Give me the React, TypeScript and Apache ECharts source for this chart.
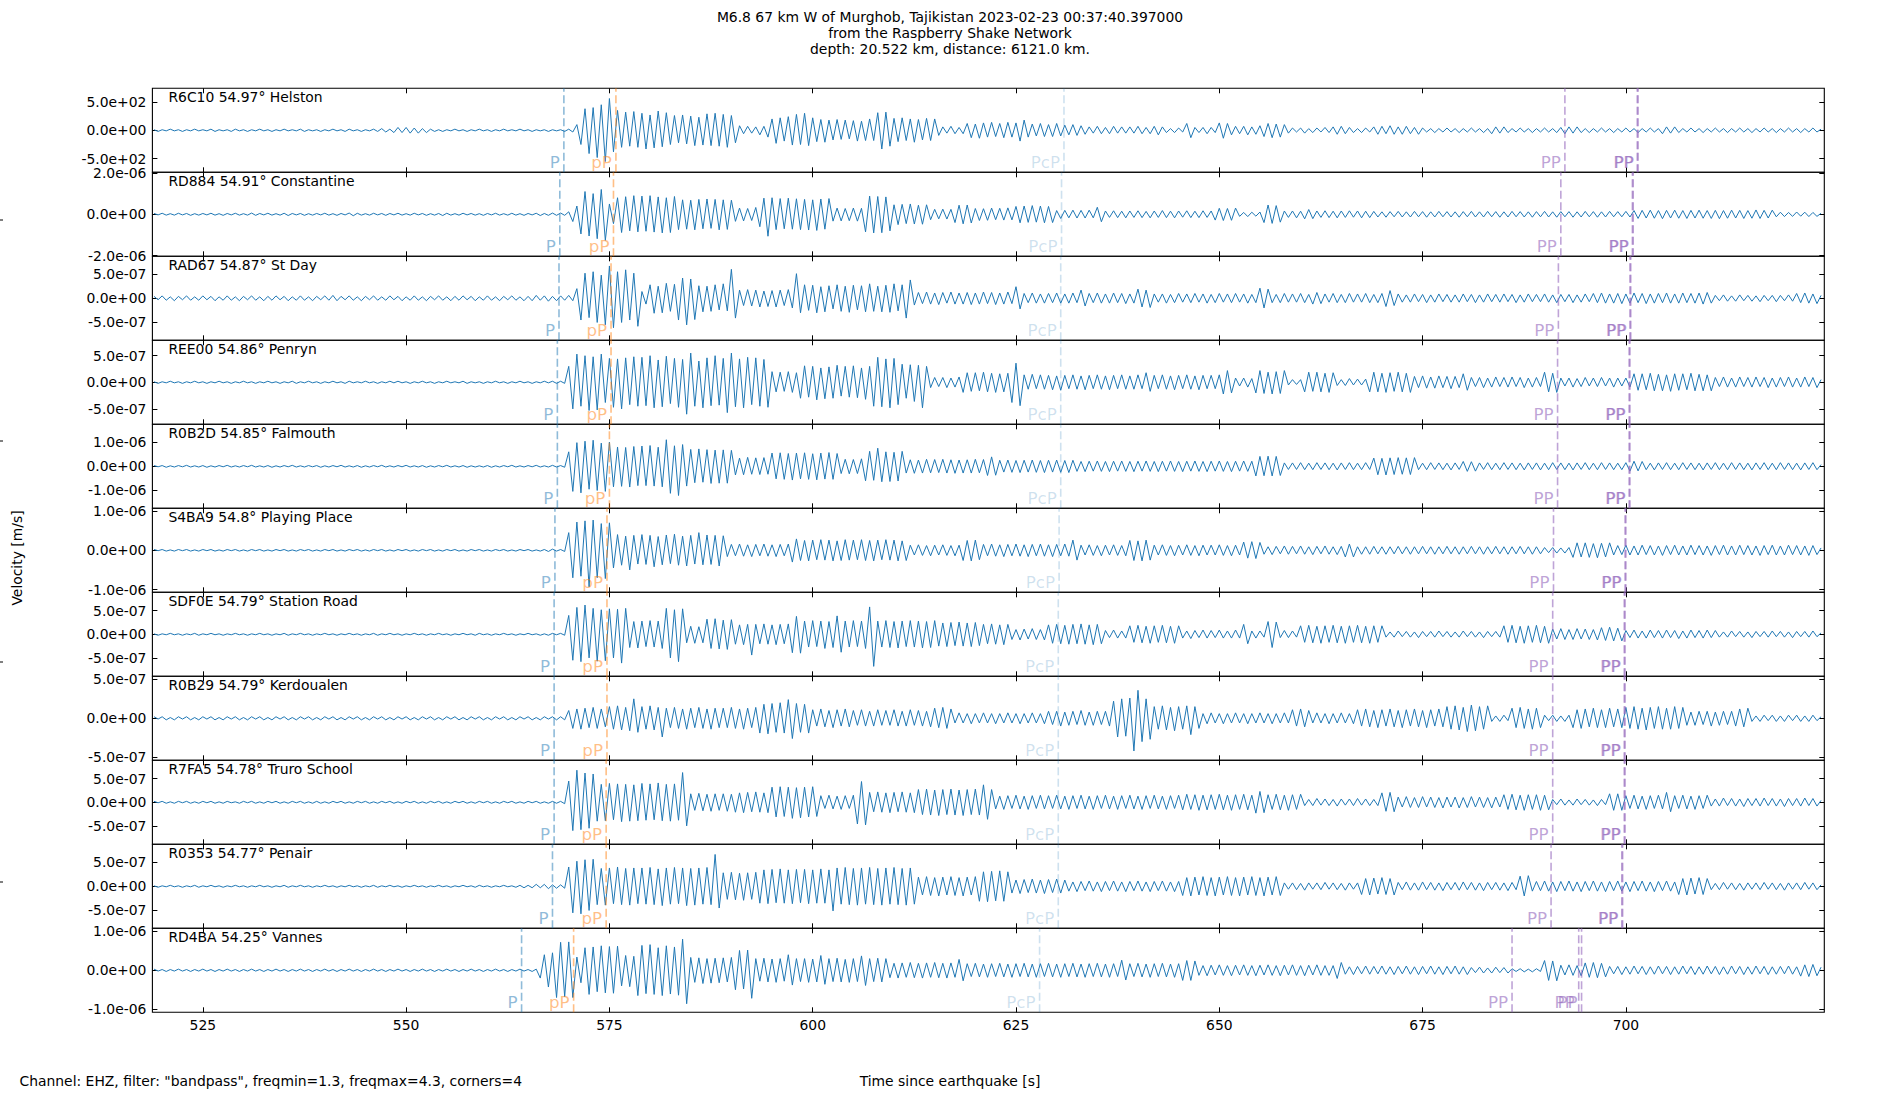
import React, { useEffect, useRef } from "react";
import * as echarts from "echarts";

// ---------- axes / layout constants ----------
const T0 = 519.0; // time of first sample [s]
const DT = 0.5;
const X_MIN = 518.8;
const X_MAX = 724.4;
const X_TICKS = [525, 550, 575, 600, 625, 650, 675, 700];

const STATIONS = ["R6C10", "RD884", "RAD67", "REE00", "R0B2D", "S4BA9", "SDF0E", "R0B29", "R7FA5", "R0353", "RD4BA"];
const DISTANCES = [54.97, 54.91, 54.87, 54.86, 54.85, 54.8, 54.79, 54.79, 54.78, 54.77, 54.25];
const PLACES = ["Helston", "Constantine", "St Day", "Penryn", "Falmouth", "Playing Place", "Station Road", "Kerdoualen", "Truro School", "Penair", "Vannes"];

// value units of each trace array (first station is in counts x10, others in 1e-8 m/s)
const UNITS = [10, 1e-8, 1e-8, 1e-8, 1e-8, 1e-8, 1e-8, 1e-8, 1e-8, 1e-8, 1e-8];
const Y_HALF = [74, 203, 87, 79, 174, 107, 89, 54, 89, 87, 108];
const Y_TICK = [50, 200, 50, 50, 100, 100, 50, 50, 50, 50, 100];

// ---------- phase arrival times [s] ----------
const P_TIMES = [569.4, 568.9, 568.8, 568.6, 568.6, 568.3, 568.2, 568.2, 568.2, 568.0, 564.2];
const PP_DEPTH_TIMES = [575.8, 575.5, 575.2, 575.2, 575.0, 574.7, 574.7, 574.7, 574.6, 574.6, 570.6];
const PCP_TIMES = [630.9, 630.6, 630.5, 630.5, 630.5, 630.3, 630.2, 630.2, 630.2, 630.2, 627.9];
const PP1_TIMES = [692.5, 692.0, 691.7, 691.6, 691.6, 691.1, 691.0, 691.0, 691.0, 690.8, 686.0];
const PP2_TIMES = [701.4, 700.8, 700.5, 700.4, 700.4, 699.9, 699.8, 699.8, 699.8, 699.5, 694.2];
const PP3_TIMES = [701.5, 700.9, 700.6, 700.5, 700.5, 700.0, 699.9, 699.9, 699.9, 699.6, 694.55];

const TRACE_R6C10 = [
  1,-2,1,-1,2,-1,1,-2,1,-1,2,-1,1,-1,2,-2,1,-1,1,-2,
  2,-1,1,-2,1,-1,2,-1,1,-2,1,-1,2,-1,1,-1,2,-2,1,-1,
  1,-2,1,-1,2,-1,1,-2,2,-1,1,-2,1,-1,2,-2,3,-3,2,-4,
  5,-4,5,-5,4,-5,3,-4,2,-2,1,-2,1,-1,2,-1,1,-2,1,-1,
  2,-1,1,-2,1,-1,2,-1,1,-1,2,-1,1,-2,1,-1,1,-2,1,-1,
  1,-2,2,-3,10,-25,38,-41,40,-48,45,-55,56,-38,35,-30,32,-28,33,-30,
  30,-33,27,-31,34,-29,31,-25,26,-22,27,-24,25,-27,23,-26,29,-27,30,-28,
  28,-30,26,-22,8,-6,7,-5,6,-8,7,-12,20,-23,22,-19,24,-26,28,-25,
  30,-27,22,-20,19,-21,18,-17,19,-16,18,-15,17,-19,16,-18,20,-18,31,-33,
  32,-28,21,-20,22,-18,20,-21,19,-17,21,-18,20,-9,6,-5,7,-6,5,-6,
  12,-13,11,-14,13,-12,14,-11,12,-13,14,-12,13,-19,18,-12,11,-10,12,-11,
  10,-11,12,-10,9,-8,10,-9,8,-7,6,-5,7,-6,5,-6,7,-5,6,-5,
  6,-5,7,-6,5,-6,7,-8,6,-4,3,-4,4,-3,12,-13,5,-4,5,-6,
  5,-4,13,-14,12,-8,7,-6,7,-8,6,-7,8,-11,12,-13,11,-12,10,-5,
  4,-3,4,-5,3,-4,4,-3,5,-4,6,-7,7,-6,5,-4,3,-4,4,-3,
  6,-7,7,-6,8,-7,6,-7,7,-6,5,-7,4,-3,3,-4,3,-3,4,-3,
  3,-4,3,-3,4,-3,3,-4,3,-6,6,-5,6,-4,3,-3,4,-3,3,-4,
  3,-3,4,-3,3,-4,5,-6,6,-5,6,-4,3,-4,3,-3,4,-3,3,-4,
  3,-3,4,-3,3,-4,3,-3,4,-3,3,-6,6,-5,6,-4,3,-3,4,-3,
  3,-4,3,-3,4,-3,3,-4,3,-3,4,-3,3,-4,3,-3,4,-3,3,-4,
  3,-3,4,-3,3,-4,3,-3,4,-3,2,
];
const TRACE_RD884 = [
  4,-3,5,-4,3,-4,5,-3,4,-5,3,-4,4,-3,5,-4,3,-5,4,-3,
  5,-4,3,-4,6,-5,4,-3,5,-4,3,-4,5,-6,4,-3,4,-5,3,-4,
  4,-3,5,-4,3,-5,4,-3,6,-7,5,-4,3,-4,5,-3,4,-5,4,-3,
  5,-4,3,-4,5,-3,4,-5,3,-4,4,-6,5,-4,3,-4,5,-3,4,-4,
  3,-5,4,-3,5,-4,3,-4,5,-4,3,-5,4,-3,5,-6,4,-5,6,-5,
  6,-5,12,-35,40,-95,110,-105,100,-118,120,-126,50,-45,80,-88,85,-80,90,-85,
  88,-82,90,-86,84,-90,80,-88,86,-74,70,-72,68,-75,72,-70,74,-68,72,-75,
  70,-73,68,-34,30,-32,28,-30,33,-60,78,-106,80,-74,76,-70,78,-72,75,-74,
  72,-76,70,-78,74,-72,76,-33,30,-32,28,-31,30,-33,29,-85,88,-90,86,-89,
  84,-80,46,-50,48,-45,50,-47,44,-48,46,-26,24,-22,25,-23,24,-40,44,-46,
  45,-42,28,-30,27,-29,30,-26,29,-28,31,-27,38,-41,40,-39,42,-38,40,-41,
  38,-40,18,-20,19,-17,20,-18,19,-18,20,-17,34,-36,16,-15,17,-16,15,-17,
  16,-15,17,-16,14,-17,16,-15,18,-16,15,-17,16,-14,17,-16,15,-16,17,-15,
  16,-28,29,-30,28,-29,30,-10,9,-11,10,-9,11,-40,45,-44,42,-38,16,-15,
  16,-17,15,-22,23,-21,16,-15,17,-16,15,-17,16,-15,17,-14,16,-17,15,-16,
  14,-13,12,-14,13,-12,14,-13,12,-13,14,-12,13,-14,12,-13,14,-12,13,-13,
  12,-14,13,-12,14,-13,12,-13,14,-12,13,-14,12,-13,14,-12,13,-13,12,-14,
  13,-12,14,-13,12,-14,13,-12,13,-14,12,-13,14,-12,13,-14,12,-13,14,-12,
  13,-12,14,-13,18,-20,19,-18,20,-19,18,-21,19,-18,20,-19,18,-20,19,-18,
  20,-19,18,-20,19,-21,18,-19,20,-18,19,-20,18,-19,21,-20,19,-18,20,-12,
  10,-11,9,-10,11,-9,10,-11,9,-10,5,
];
const TRACE_RAD67 = [
  4,-3,5,-4,3,-5,4,-3,5,-4,3,-4,5,-3,4,-5,3,-4,5,-4,
  3,-5,4,-3,5,-4,3,-5,4,-4,5,-3,4,-5,3,-4,5,-4,3,-5,
  4,-3,5,-4,6,-5,4,-3,5,-4,3,-5,4,-3,5,-4,3,-4,5,-3,
  4,-5,3,-4,5,-4,3,-5,4,-3,5,-4,3,-5,4,-4,5,-3,4,-5,
  3,-4,5,-4,3,-5,4,-3,5,-4,3,-5,4,-5,6,-4,5,-6,4,-5,
  5,-4,6,-5,20,-45,52,-40,55,-50,48,-55,67,-61,55,-50,59,-45,52,-58,
  14,-12,28,-31,25,-30,31,-27,29,-45,42,-55,40,-44,26,-28,25,-27,28,-24,
  30,-26,60,-41,17,-15,18,-16,17,-18,15,-17,16,-18,17,-15,18,-20,51,-30,
  28,-25,27,-30,24,-28,26,-22,28,-27,25,-29,27,-24,26,-28,30,-27,25,-28,
  27,-29,30,-26,28,-41,38,-14,12,-11,13,-12,11,-13,12,-10,13,-12,11,-12,
  12,-13,11,-12,13,-11,12,-13,11,-12,13,-11,24,-22,10,-9,11,-10,9,-10,
  10,-9,11,-10,9,-10,11,-9,17,-16,10,-9,11,-10,9,-10,11,-9,10,-11,
  9,-10,19,-18,17,-19,9,-8,9,-10,8,-9,10,-8,9,-9,10,-8,9,-10,
  8,-9,10,-8,9,-9,10,-8,9,-10,8,-9,21,-20,19,-9,8,-9,10,-8,
  9,-8,10,-9,8,-12,12,-11,9,-8,10,-9,8,-9,10,-8,9,-8,10,-9,
  8,-9,10,-17,16,-15,9,-8,7,-8,9,-7,8,-9,7,-8,9,-7,8,-8,
  7,-8,9,-7,8,-9,7,-8,9,-7,8,-8,9,-7,8,-9,7,-8,9,-7,
  8,-7,9,-8,7,-9,8,-7,8,-9,7,-8,9,-7,10,-9,11,-10,9,-10,
  10,-11,9,-10,11,-9,10,-11,9,-10,10,-9,11,-10,9,-10,11,-9,10,-10,
  11,-12,12,-10,6,-5,7,-6,5,-6,7,-5,6,-6,5,-7,6,-5,6,-7,
  6,-5,7,-6,10,-9,11,-10,9,-11,6,
];
const TRACE_REE00 = [
  1,-2,1,-1,2,-1,1,-2,1,-1,2,-1,1,-2,1,-1,2,-1,1,-2,
  1,-1,2,-1,1,-2,1,-1,2,-1,1,-2,1,-1,2,-2,1,-1,2,-1,
  1,-2,1,-1,2,-1,1,-2,2,-1,1,-1,2,-1,1,-2,1,-1,2,-1,
  2,-1,1,-2,1,-1,2,-1,1,-2,1,-1,2,-1,1,-1,2,-2,1,-1,
  1,-2,1,-1,2,-1,1,-2,1,-1,2,-1,1,-2,1,-1,2,-1,2,-2,
  2,-2,30,-50,53,-45,50,-53,48,-52,53,-38,45,-47,44,-50,46,-42,48,-45,
  47,-44,50,-48,42,-46,49,-40,45,-47,43,-60,55,-45,40,-48,46,-44,50,-43,
  45,-57,55,-46,44,-48,47,-42,46,-45,43,-47,20,-18,19,-17,20,-19,18,-30,
  31,-28,30,-33,27,-31,29,-30,32,-26,30,-28,31,-29,27,-32,30,-45,47,-46,
  44,-48,45,-42,34,-30,33,-36,32,-48,30,-10,9,-8,9,-10,8,-9,10,-19,
  18,-17,18,-16,19,-18,17,-19,16,-18,17,-38,36,-44,14,-13,15,-12,14,-13,
  13,-14,12,-15,13,-12,14,-13,12,-14,13,-12,14,-13,12,-14,13,-12,14,-13,
  12,-13,14,-12,18,-17,13,-12,14,-13,12,-14,13,-12,14,-13,12,-14,13,-12,
  13,-12,14,-22,22,-20,8,-7,8,-9,7,-20,22,-21,19,-22,20,-21,22,-5,
  5,-4,5,-18,19,-17,19,-18,17,-19,18,-6,5,-6,7,-5,6,-5,6,-18,
  19,-18,17,-19,18,-17,19,-18,17,-19,11,-10,12,-11,10,-11,12,-10,11,-12,
  11,-10,16,-15,9,-8,9,-10,8,-9,10,-8,9,-9,10,-8,9,-10,8,-9,
  9,-8,19,-18,17,-19,8,-7,8,-9,7,-8,9,-7,8,-8,9,-7,8,-9,
  8,-7,8,-9,16,-15,16,-14,17,-16,15,-16,14,-17,16,-15,16,-14,17,-16,
  15,-16,14,-16,9,-8,10,-9,8,-9,10,-8,9,-9,10,-8,9,-10,8,-9,
  9,-8,10,-9,8,-9,10,-8,9,-10,5,
];
const TRACE_R0B2D = [
  3,-2,3,-4,2,-3,3,-2,4,-3,2,-3,3,-4,2,-3,3,-2,4,-3,
  2,-3,3,-2,4,-3,2,-3,3,-4,2,-3,3,-2,4,-3,2,-3,3,-2,
  3,-4,2,-3,3,-2,4,-3,2,-3,3,-4,2,-3,3,-2,4,-3,2,-3,
  3,-2,4,-3,2,-3,3,-4,2,-3,3,-2,4,-3,2,-3,3,-4,2,-3,
  2,-3,3,-4,2,-3,3,-2,4,-3,2,-3,3,-2,4,-3,2,-3,4,-3,
  3,-4,60,-104,98,-110,104,-95,108,-100,96,-104,100,-85,80,-83,78,-86,82,-80,
  84,-80,86,-82,79,-85,110,-112,85,-121,90,-82,70,-68,72,-66,69,-71,67,-70,
  68,-70,66,-36,34,-35,37,-33,35,-34,36,-33,55,-52,56,-54,53,-57,55,-52,
  56,-54,52,-56,55,-53,57,-54,53,-30,29,-31,28,-30,31,-60,62,-58,75,-64,
  60,-63,58,-61,62,-28,27,-29,26,-28,29,-27,28,-26,29,-28,27,-29,26,-28,
  27,-28,29,-27,28,-38,39,-37,25,-24,26,-25,24,-26,25,-24,26,-25,24,-26,
  25,-24,26,-25,24,-26,25,-21,20,-22,21,-20,22,-21,20,-22,21,-20,22,-21,
  20,-22,21,-20,22,-21,20,-22,21,-20,22,-21,20,-22,21,-20,22,-21,20,-22,
  21,-20,22,-21,20,-22,21,-20,22,-21,21,-40,41,-39,42,-40,41,-38,14,-13,
  14,-13,15,-14,13,-14,15,-13,14,-14,13,-15,14,-13,15,-14,13,-14,15,-13,
  34,-35,33,-36,35,-34,36,-33,35,-34,36,-14,13,-14,15,-13,14,-14,13,-15,
  14,-13,20,-21,19,-20,14,-13,15,-14,13,-14,15,-13,14,-14,13,-15,14,-13,
  14,-15,13,-14,15,-13,14,-14,13,-15,14,-13,15,-14,13,-14,15,-13,14,-14,
  13,-14,15,-20,21,-19,20,-14,13,-15,14,-13,15,-14,13,-14,15,-13,14,-14,
  13,-15,14,-13,15,-14,13,-14,15,-13,14,-14,13,-15,14,-13,15,-14,13,-14,
  15,-13,14,-14,13,-15,14,-13,15,-14,7,
];
const TRACE_S4BA9 = [
  2,-1,2,-2,1,-2,2,-1,2,-2,1,-2,2,-1,2,-2,1,-2,2,-1,
  2,-2,1,-2,2,-1,2,-2,1,-2,2,-1,2,-2,1,-2,2,-1,2,-2,
  1,-2,2,-1,2,-2,1,-2,2,-1,2,-2,1,-2,2,-1,2,-2,1,-2,
  2,-1,2,-2,1,-2,2,-1,2,-2,1,-2,2,-1,2,-2,1,-2,2,-1,
  2,-2,1,-2,2,-1,2,-2,1,-2,2,-1,2,-2,1,-2,2,-3,3,-2,
  2,-3,45,-70,72,-66,75,-93,77,-70,68,-72,70,-45,40,-38,36,-50,38,-35,
  40,-36,38,-42,35,-37,39,-34,41,-38,36,-40,38,-35,45,-37,39,-36,38,-40,
  37,-16,15,-14,16,-15,14,-16,15,-14,16,-15,14,-16,15,-14,16,-30,29,-26,
  25,-27,26,-24,27,-25,26,-27,24,-26,27,-25,26,-24,27,-26,25,-27,26,-24,
  27,-25,26,-27,24,-26,13,-12,14,-13,12,-14,13,-12,14,-13,12,-14,13,-26,
  25,-27,26,-24,15,-14,16,-15,14,-16,15,-14,16,-15,14,-16,15,-14,16,-15,
  14,-16,15,-14,16,-15,26,-25,13,-12,14,-13,12,-14,13,-12,14,-13,12,-14,
  25,-26,24,-27,26,-25,13,-12,14,-13,12,-14,13,-12,14,-13,12,-14,13,-12,
  13,-12,14,-13,12,-14,13,-12,21,-20,22,-21,20,-10,9,-11,10,-9,11,-10,
  10,-9,11,-10,9,-11,10,-9,11,-10,9,-11,10,-17,16,-17,9,-10,9,-10,
  10,-9,9,-10,9,-9,10,-9,9,-10,9,-9,10,-9,9,-10,9,-9,10,-9,
  9,-10,9,-9,10,-9,9,-10,9,-9,10,-9,9,-10,9,-9,10,-9,9,-10,
  9,-9,7,-6,7,-7,6,-7,7,-18,19,-17,19,-18,17,-19,18,-17,19,-12,
  12,-11,13,-12,11,-12,13,-11,12,-12,11,-13,12,-11,13,-12,11,-12,13,-11,
  12,-12,11,-13,12,-11,13,-12,11,-12,13,-11,12,-12,11,-13,12,-11,13,-12,
  11,-12,13,-11,12,-12,11,-13,12,-11,6,
];
const TRACE_SDF0E = [
  1,-2,1,-1,2,-1,1,-2,1,-1,2,-2,1,-1,2,-1,1,-2,1,-1,
  2,-1,1,-2,1,-1,2,-1,1,-2,1,-1,2,-2,1,-1,2,-1,1,-2,
  1,-1,2,-1,1,-2,1,-1,2,-1,1,-2,1,-1,2,-2,1,-1,2,-1,
  1,-2,1,-1,2,-1,1,-2,1,-1,2,-1,1,-2,1,-1,2,-1,1,-2,
  2,-1,1,-2,1,-1,2,-1,1,-2,1,-1,2,-1,1,-2,1,-2,2,-1,
  2,-2,40,-55,57,-58,62,-50,55,-57,52,-56,54,-50,53,-61,55,-28,27,-29,
  28,-26,29,-27,28,-30,55,-50,52,-58,54,-18,17,-19,16,-18,32,-30,33,-31,
  30,-32,31,-21,20,-22,21,-44,21,-20,22,-21,20,-22,21,-20,22,-39,38,-40,
  28,-27,29,-26,28,-30,27,-28,39,-38,28,-27,29,-26,28,-30,58,-68,28,-27,
  29,-28,27,-29,28,-26,29,-27,28,-29,27,-28,29,-25,24,-26,25,-24,26,-25,
  24,-26,25,-24,21,-20,22,-21,20,-22,21,-11,10,-12,11,-10,12,-11,10,-12,
  20,-19,21,-20,19,-21,21,-20,22,-21,20,-22,21,-20,8,-7,9,-8,7,-8,
  18,-17,19,-18,17,-19,18,-17,19,-18,17,-19,18,-8,7,-9,8,-7,9,-8,
  8,-7,9,-8,7,-8,9,-8,21,-20,7,-8,7,-6,27,-28,26,-7,8,-7,
  7,-6,18,-17,19,-18,17,-19,18,-17,19,-18,17,-19,18,-17,19,-18,17,-19,
  18,-17,18,-6,5,-6,7,-5,6,-6,5,-7,6,-5,6,-6,7,-5,6,-6,
  5,-6,7,-5,6,-6,5,-7,6,-5,6,-6,18,-17,19,-18,17,-19,18,-17,
  19,-18,17,-19,11,-10,12,-11,10,-11,12,-10,11,-11,10,-12,14,-13,15,-14,
  13,-14,8,-7,9,-8,7,-8,9,-7,8,-8,9,-7,8,-9,7,-8,9,-7,
  8,-8,9,-7,8,-6,5,-6,7,-5,6,-6,5,-7,6,-5,6,-6,7,-5,
  6,-6,5,-7,6,-5,6,-6,7,-5,3,
];
const TRACE_R0B29 = [
  2,-1,2,-2,1,-2,2,-1,2,-2,1,-2,2,-1,2,-2,1,-2,2,-1,
  2,-2,1,-2,2,-1,2,-2,1,-2,2,-1,2,-2,1,-2,2,-1,2,-2,
  1,-2,2,-1,2,-2,1,-2,2,-1,2,-2,1,-2,2,-1,2,-2,1,-2,
  2,-1,2,-2,1,-2,2,-1,2,-2,1,-2,2,-1,2,-2,1,-2,2,-1,
  2,-2,1,-2,2,-1,2,-2,1,-2,2,-1,2,-2,1,-2,2,-1,2,-2,
  2,-2,10,-13,12,-14,13,-12,14,-13,12,-11,15,-14,16,-15,14,-16,25,-18,
  15,-14,16,-15,14,-24,13,-12,14,-13,12,-14,13,-12,14,-13,12,-14,13,-12,
  13,-12,14,-13,12,-14,13,-12,14,-19,18,-20,19,-18,20,-19,24,-26,19,-18,
  18,-19,11,-10,12,-11,10,-12,11,-10,12,-11,10,-9,11,-10,9,-10,11,-9,
  10,-9,11,-10,9,-10,11,-9,10,-10,9,-11,13,-12,14,-13,12,-6,7,-6,
  6,-7,6,-6,7,-6,6,-7,6,-6,7,-6,6,-7,6,-6,7,-6,6,-7,
  9,-8,9,-10,8,-9,9,-8,10,-9,8,-9,9,-8,9,-10,22,-24,25,-23,
  26,-42,36,-30,25,-27,15,-14,16,-15,14,-16,15,-14,16,-21,15,-13,6,-7,
  7,-6,6,-7,6,-6,7,-6,6,-7,6,-6,7,-6,6,-7,6,-6,7,-6,
  11,-10,12,-11,10,-6,7,-6,6,-7,6,-6,7,-6,6,-7,11,-10,12,-11,
  10,-12,11,-10,12,-11,10,-12,11,-10,12,-11,10,-12,11,-10,12,-11,15,-14,
  16,-15,14,-17,17,-16,15,-14,16,-4,3,-4,4,-3,13,-12,14,-13,12,-14,
  13,-12,4,-3,4,-4,3,-4,4,-12,11,-13,12,-11,13,-12,11,-12,13,-11,
  12,-12,14,-13,15,-14,13,-15,14,-13,15,-14,13,-14,15,-13,14,-9,8,-9,
  9,-8,9,-10,8,-9,9,-8,9,-10,12,-11,13,-4,3,-4,4,-3,4,-4,
  3,-4,4,-3,4,-4,3,-4,4,-3,2,
];
const TRACE_R7FA5 = [
  2,-1,2,-2,1,-2,2,-1,2,-2,1,-2,2,-1,2,-2,1,-2,2,-1,
  1,-2,2,-1,2,-2,1,-2,2,-1,2,-2,1,-2,2,-1,2,-2,1,-2,
  2,-2,1,-2,2,-1,2,-2,1,-2,2,-1,2,-2,1,-2,2,-1,2,-2,
  1,-2,2,-1,2,-2,1,-2,2,-1,2,-2,1,-2,2,-1,2,-2,1,-2,
  2,-1,2,-2,1,-2,2,-1,2,-2,1,-2,2,-1,2,-2,1,-2,2,-2,
  2,-3,45,-60,68,-58,62,-55,60,-40,38,-39,40,-37,39,-41,38,-40,37,-39,
  40,-38,39,-37,41,-39,38,-40,39,-38,63,-50,18,-17,19,-18,17,-19,18,-17,
  18,-19,17,-21,20,-22,21,-20,22,-21,20,-22,32,-31,33,-30,32,-34,31,-33,
  32,-31,33,-30,14,-13,15,-14,13,-15,14,-13,15,-46,44,-48,21,-20,22,-21,
  20,-22,21,-20,22,-21,20,-22,27,-26,28,-27,26,-28,27,-26,28,-27,26,-28,
  27,-26,28,-27,37,-36,27,-14,13,-15,14,-13,15,-14,13,-15,14,-13,15,-14,
  14,-13,15,-14,13,-15,14,-13,15,-14,13,-15,14,-13,15,-14,13,-15,14,-13,
  15,-14,13,-15,14,-13,15,-14,13,-15,14,-13,15,-16,17,-15,16,-17,15,-16,
  16,-15,17,-16,15,-17,16,-15,17,-16,15,-23,23,-22,16,-15,17,-16,15,-17,
  16,-15,17,-7,6,-7,8,-6,7,-7,6,-8,7,-6,7,-7,8,-6,7,-7,
  6,-7,20,-19,21,-20,11,-10,12,-11,10,-11,12,-10,11,-11,10,-12,11,-10,
  11,-12,10,-11,12,-10,11,-11,10,-12,11,-10,16,-15,17,-16,15,-17,16,-15,
  16,-17,15,-16,6,-5,7,-6,5,-6,7,-5,6,-6,5,-7,6,-5,18,-17,
  18,-17,14,-13,15,-14,13,-15,14,-13,15,-14,21,-20,14,-13,15,-14,13,-15,
  14,-13,15,-8,7,-8,9,-7,8,-8,7,-9,8,-7,8,-8,9,-7,8,-8,
  7,-9,8,-7,8,-8,9,-7,8,-8,4,
];
const TRACE_R0353 = [
  1,-2,1,-1,2,-1,1,-2,1,-1,2,-2,1,-1,2,-1,1,-2,1,-1,
  2,-1,1,-2,1,-1,2,-1,1,-2,1,-1,2,-2,1,-1,2,-1,1,-2,
  1,-1,2,-1,1,-2,1,-1,2,-1,1,-2,1,-1,2,-2,1,-1,2,-1,
  1,-2,1,-1,2,-1,1,-2,1,-1,2,-1,1,-2,1,-1,2,-1,1,-2,
  2,-1,1,-2,1,-1,2,-1,1,-2,2,-3,2,-3,4,-3,4,-5,3,-4,
  3,-4,40,-55,52,-57,55,-50,56,-38,37,-39,38,-36,40,-38,37,-39,38,-36,
  38,-37,39,-38,36,-40,38,-37,39,-36,38,-40,37,-39,38,-37,39,-38,66,-45,
  28,-27,29,-28,27,-29,28,-27,29,-35,34,-36,35,-34,36,-35,34,-36,35,-34,
  35,-36,34,-35,36,-35,34,-51,38,-37,39,-38,37,-39,38,-37,39,-38,37,-39,
  38,-37,39,-38,37,-39,38,-37,19,-18,20,-19,18,-20,19,-18,20,-19,18,-20,
  19,-18,20,-31,30,-32,31,-30,32,-31,30,-14,13,-15,14,-13,15,-14,13,-15,
  14,-13,15,-14,13,-10,9,-11,10,-9,11,-10,9,-11,10,-9,11,-10,9,-11,
  10,-9,11,-10,9,-11,10,-9,11,-10,9,-11,10,-19,18,-20,19,-18,20,-19,
  18,-20,19,-18,20,-19,18,-20,19,-18,20,-19,18,-20,19,-18,20,-19,7,-6,
  7,-7,6,-8,7,-6,7,-7,8,-6,7,-7,6,-8,7,-6,7,-17,16,-18,
  17,-16,18,-17,16,-18,8,-7,9,-8,7,-8,9,-7,8,-8,7,-9,8,-7,
  8,-8,9,-7,8,-8,7,-9,8,-7,8,-8,7,-9,8,-7,21,-20,22,-10,
  10,-9,11,-10,9,-11,10,-9,11,-10,9,-11,10,-9,11,-10,9,-11,10,-9,
  11,-10,9,-11,10,-9,11,-10,9,-11,10,-9,11,-10,9,-17,16,-18,17,-16,
  18,-17,16,-7,6,-7,8,-6,7,-7,6,-8,7,-6,7,-7,8,-6,7,-7,
  6,-8,7,-6,7,-7,8,-6,7,-7,3,
];
const TRACE_RD4BA = [
  3,-2,2,-3,2,-2,3,-2,2,-3,2,-2,3,-2,2,-3,2,-2,3,-2,
  2,-3,2,-2,3,-2,2,-3,2,-2,3,-2,2,-3,2,-2,3,-2,2,-3,
  2,-2,3,-2,2,-3,2,-2,3,-2,2,-3,2,-2,3,-2,2,-3,2,-2,
  3,-2,2,-3,2,-2,3,-2,2,-3,2,-2,3,-2,2,-3,2,-2,3,-2,
  2,-3,2,-2,3,-2,2,-3,2,-2,3,-2,2,-3,3,-20,40,-43,45,-70,
  72,-68,73,-70,34,-32,58,-62,60,-55,63,-58,61,-59,62,-40,38,-42,36,-65,
  64,-60,66,-62,58,-65,63,-61,60,-64,80,-86,33,-31,32,-34,30,-33,31,-32,
  32,-30,33,-50,51,-48,52,-72,30,-28,31,-30,29,-31,30,-28,40,-38,30,-29,
  30,-31,29,-30,38,-36,30,-29,31,-30,28,-31,30,-29,37,-39,30,-29,31,-30,
  30,-19,18,-20,19,-18,20,-19,18,-20,19,-18,20,-19,18,-20,19,-18,28,-27,
  17,-16,18,-17,16,-18,17,-16,18,-17,16,-18,17,-16,18,-17,16,-18,17,-16,
  18,-17,16,-18,17,-16,18,-17,16,-18,17,-16,18,-17,16,-18,17,-16,26,-25,
  17,-16,18,-17,16,-18,17,-16,18,-17,16,-18,17,-26,25,-26,24,-13,12,-14,
  13,-12,14,-13,12,-14,13,-12,14,-13,12,-14,13,-12,14,-13,12,-14,13,-12,
  14,-13,12,-14,13,-12,14,-13,12,-13,12,-21,20,-10,9,-11,10,-9,11,-10,
  10,-9,11,-10,9,-11,10,-9,11,-10,9,-11,10,-9,11,-10,9,-11,10,-9,
  11,-10,9,-11,7,-6,8,-7,6,-7,8,-6,7,-7,4,-3,4,-4,3,-4,
  4,-3,25,-26,24,-27,13,-12,14,-13,12,-14,19,-18,20,-19,18,-17,10,-9,
  10,-11,9,-10,11,-9,10,-11,9,-10,11,-9,10,-11,9,-10,11,-9,10,-11,
  9,-10,11,-9,10,-11,9,-10,11,-9,10,-11,9,-10,11,-9,10,-11,9,-10,
  10,-9,11,-10,9,-15,14,-16,15,-14,8,
];

const TRACES = [TRACE_R6C10, TRACE_RD884, TRACE_RAD67, TRACE_REE00, TRACE_R0B2D, TRACE_S4BA9, TRACE_SDF0E, TRACE_R0B29, TRACE_R7FA5, TRACE_R0353, TRACE_RD4BA];

// ---------- styling ----------
const FONT = '"DejaVu Sans", "Liberation Sans", sans-serif';
const GRID_LEFT = 152.4;
const GRID_W = 1671.9;
const GRID_TOP = 88.3;
const PANEL_H = 84;
const TRACE_COLOR = "#1f77b4";

const PHASES = [
  { name: "P", times: P_TIMES, color: "rgba(31,119,180,0.5)" },
  { name: "pP", times: PP_DEPTH_TIMES, color: "rgba(255,127,14,0.5)" },
  { name: "PcP", times: PCP_TIMES, color: "rgba(31,119,180,0.22)" },
  { name: "PP", times: PP1_TIMES, color: "rgba(148,103,189,0.6)" },
  { name: "PP", times: PP2_TIMES, color: "rgba(148,103,189,0.6)" },
  { name: "PP", times: PP3_TIMES, color: "rgba(148,103,189,0.6)" },
];

function fmtExp(x: number): string {
  const s = x.toExponential(1);
  return s.replace(/e([+-])(\d)$/, "e$10$2");
}

function buildOption() {
  const N = STATIONS.length;
  const grids: any[] = [];
  const xAxes: any[] = [];
  const yAxes: any[] = [];
  const series: any[] = [];
  const graphics: any[] = [];

  for (let k = 0; k < N; k++) {
    const top = GRID_TOP + k * PANEL_H;
    grids.push({
      left: GRID_LEFT,
      top,
      width: GRID_W,
      height: PANEL_H,
      show: true,
      borderColor: "#000",
      borderWidth: 1.1,
      backgroundColor: "transparent",
    });
  }
  const tickStyle = { color: "#000", width: 1 };
  for (let k = 0; k < N; k++) {
    xAxes.push({
      type: "value",
      gridIndex: k,
      min: X_MIN,
      max: X_MAX,
      position: "bottom",
      axisLine: { show: false, onZero: false },
      splitLine: { show: false },
      axisTick: { show: true, inside: true, length: 5, lineStyle: tickStyle, customValues: X_TICKS },
      axisLabel: {
        show: k === N - 1,
        customValues: X_TICKS,
        color: "#000",
        fontSize: 13.9,
        fontFamily: FONT,
        margin: 6,
        formatter: (v: number) => String(v),
      },
    });
  }
  for (let k = 0; k < N; k++) {
    xAxes.push({
      type: "value",
      gridIndex: k,
      min: X_MIN,
      max: X_MAX,
      position: "top",
      axisLine: { show: false, onZero: false },
      splitLine: { show: false },
      axisTick: { show: true, inside: true, length: 5, lineStyle: tickStyle, customValues: X_TICKS },
      axisLabel: { show: false },
    });
  }
  for (let k = 0; k < N; k++) {
    const h = Y_HALF[k];
    const tk = Y_TICK[k];
    const vals = [-tk, 0, tk];
    const unit = UNITS[k];
    yAxes.push({
      type: "value",
      gridIndex: k,
      min: -h,
      max: h,
      position: "left",
      axisLine: { show: false, onZero: false },
      splitLine: { show: false },
      axisTick: { show: true, inside: true, length: 5, lineStyle: tickStyle, customValues: vals },
      axisLabel: {
        show: true,
        customValues: vals,
        color: "#000",
        fontSize: 13.9,
        fontFamily: FONT,
        margin: 6,
        formatter: (v: number) => fmtExp(v * unit),
      },
    });
  }
  for (let k = 0; k < N; k++) {
    const h = Y_HALF[k];
    const tk = Y_TICK[k];
    const vals = [-tk, 0, tk];
    yAxes.push({
      type: "value",
      gridIndex: k,
      min: -h,
      max: h,
      position: "right",
      axisLine: { show: false, onZero: false },
      splitLine: { show: false },
      axisTick: { show: true, inside: true, length: 5, lineStyle: tickStyle, customValues: vals },
      axisLabel: { show: false },
    });
  }

  for (let k = 0; k < N; k++) {
    const tr = TRACES[k];
    series.push({
      type: "line",
      xAxisIndex: k,
      yAxisIndex: k,
      data: tr.map((v, i) => [T0 + i * DT, v]),
      showSymbol: false,
      symbol: "none",
      silent: true,
      clip: true,
      z: 2,
      lineStyle: { width: 1, color: TRACE_COLOR },
      itemStyle: { color: TRACE_COLOR },
    });

    const phaseData: any[] = [];
    PHASES.forEach((ph, pi) => {
      phaseData.push([ph.times[k], 0, pi]);
    });
    const h = Y_HALF[k];
    series.push({
      type: "custom",
      xAxisIndex: k,
      yAxisIndex: k,
      silent: true,
      clip: false,
      z: 4,
      encode: { x: 0, y: 1 },
      data: phaseData,
      renderItem: (params: any, api: any) => {
        const t = api.value(0);
        const pi = api.value(2);
        const ph = PHASES[pi];
        const pTop = api.coord([t, h]);
        const pBot = api.coord([t, -h]);
        return {
          type: "group",
          children: [
            {
              type: "line",
              shape: { x1: pTop[0], y1: pBot[1], x2: pTop[0], y2: pTop[1] },
              style: { stroke: ph.color, lineWidth: 1.6, lineDash: [8, 3.5] },
            },
            {
              type: "text",
              x: pTop[0] - 4,
              y: pBot[1] - 10,
              style: {
                text: ph.name,
                fill: ph.color,
                fontSize: 16.7,
                fontFamily: FONT,
                align: "right",
                verticalAlign: "middle",
                textAlign: "right",
                textVerticalAlign: "middle",
              },
            },
          ],
        };
      },
    });

    graphics.push({
      type: "text",
      x: GRID_LEFT + 16,
      y: GRID_TOP + k * PANEL_H + 9,
      silent: true,
      z: 10,
      style: {
        text: `${STATIONS[k]} ${DISTANCES[k]}° ${PLACES[k]}`,
        fill: "#000",
        font: `13.9px ${FONT}`,
        align: "left",
        verticalAlign: "middle",
        textAlign: "left",
        textVerticalAlign: "middle",
      },
    });
  }

  const TITLE_LINES = [
    "M6.8 67 km W of Murghob, Tajikistan 2023-02-23 00:37:40.397000",
    "from the Raspberry Shake Network",
    "depth: 20.522 km, distance: 6121.0 km.",
  ];
  const TITLE_Y = [17, 33, 49];
  TITLE_LINES.forEach((s, i) => {
    graphics.push({
      type: "text",
      x: 950,
      y: TITLE_Y[i],
      silent: true,
      style: { text: s, fill: "#000", font: `13.9px ${FONT}`, align: "center", verticalAlign: "middle", textAlign: "center", textVerticalAlign: "middle" },
    });
  });
  graphics.push({
    type: "text",
    x: 17,
    y: 558,
    rotation: Math.PI / 2,
    silent: true,
    style: { text: "Velocity [m/s]", fill: "#000", font: `13.9px ${FONT}`, align: "center", verticalAlign: "middle", textAlign: "center", textVerticalAlign: "middle" },
  });
  graphics.push({
    type: "text",
    x: 19.5,
    y: 1081,
    silent: true,
    style: { text: 'Channel: EHZ, filter: "bandpass", freqmin=1.3, freqmax=4.3, corners=4', fill: "#000", font: `13.9px ${FONT}`, align: "left", verticalAlign: "middle", textAlign: "left", textVerticalAlign: "middle" },
  });
  graphics.push({
    type: "text",
    x: 950,
    y: 1081,
    silent: true,
    style: { text: "Time since earthquake [s]", fill: "#000", font: `13.9px ${FONT}`, align: "center", verticalAlign: "middle", textAlign: "center", textVerticalAlign: "middle" },
  });
  [220, 441, 662, 882].forEach((yy) => {
    graphics.push({ type: "line", silent: true, shape: { x1: 0, y1: yy, x2: 3, y2: yy }, style: { stroke: "#000", lineWidth: 1 } });
  });

  return {
    animation: false,
    backgroundColor: "#fff",
    textStyle: { fontFamily: FONT },
    grid: grids,
    xAxis: xAxes,
    yAxis: yAxes,
    series,
    graphic: { elements: graphics },
  };
}

export default function App() {
  const ref = useRef<HTMLDivElement>(null);
  useEffect(() => {
    if (!ref.current) return;
    const chart = echarts.init(ref.current, undefined, { renderer: "svg", width: 1900, height: 1100 });
    chart.setOption(buildOption() as any);
    return () => {
      chart.dispose();
    };
  }, []);
  return (
    <div
      ref={ref}
      style={{ position: "fixed", left: 0, top: 0, width: 1900, height: 1100, background: "#fff" }}
    />
  );
}
